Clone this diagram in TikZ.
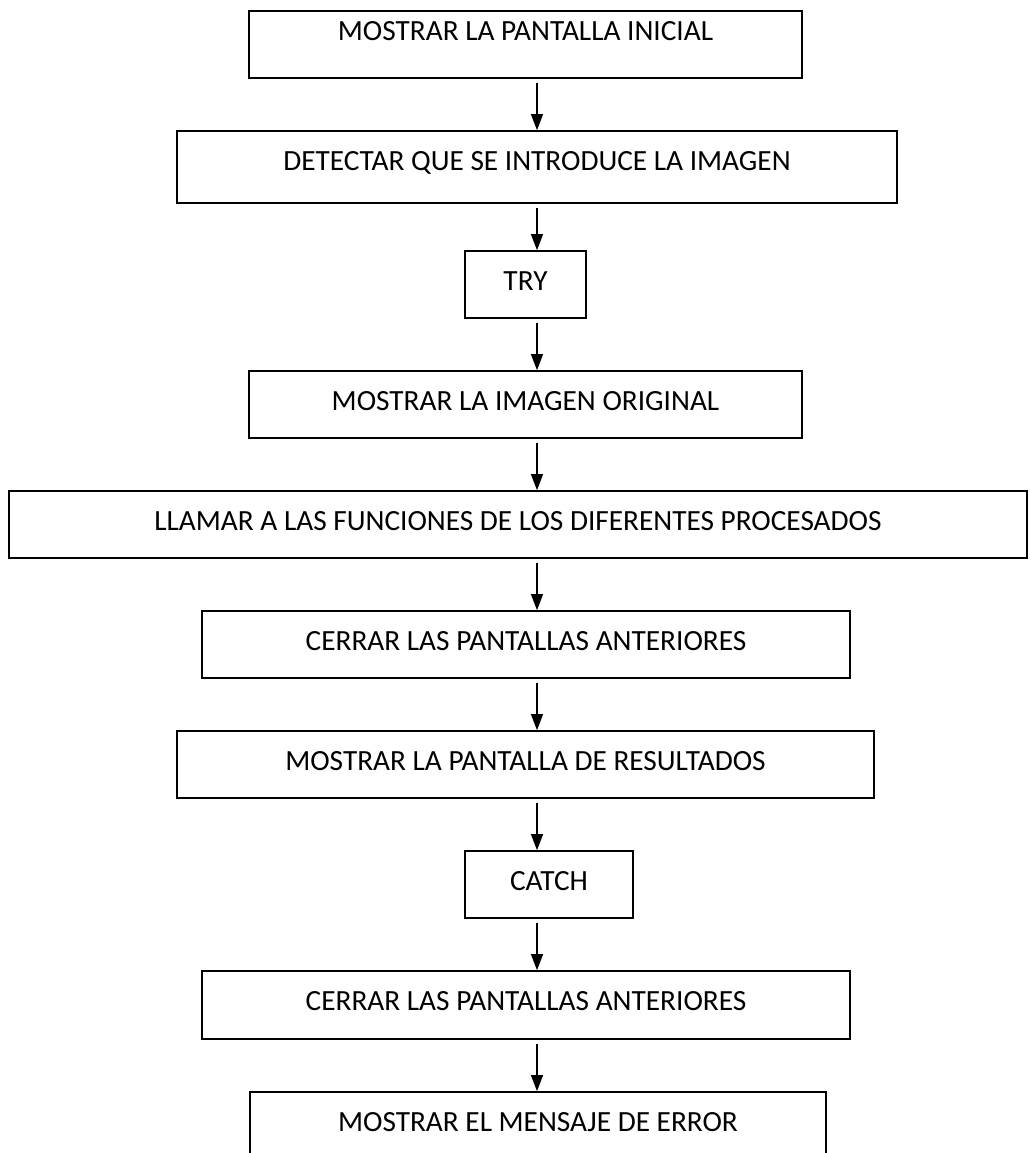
\documentclass[tikz,border=0pt]{standalone}
\usepackage{fontspec}
\setmainfont{Carlito}
\usetikzlibrary{arrows.meta}

\tikzset{
  stepbox/.style={draw=black, line width=1.7pt, rectangle, inner sep=0pt,
    font=\fontsize{29.3pt}{32pt}\selectfont, text height=39pt},
  flow/.style={line width=1.2pt, -{Triangle[width=12pt,length=16pt]}}
}

\begin{document}
\begin{tikzpicture}[x=1pt,y=-1pt]
  \clip (0,0) rectangle (1029,1153);
  \fill[white] (0,0) rectangle (1029,1153);

  % column of the connectors
  \coordinate (ax) at (537,0);

  \node[stepbox, minimum width=553pt, minimum height=67pt, text height=30pt, text depth=37pt]
    (b1) at (525.5,44.5) {MOSTRAR LA PANTALLA INICIAL};
  \node[stepbox, minimum width=720pt, minimum height=72pt, text depth=33pt]
    (b2) at (537,167) {DETECTAR QUE SE INTRODUCE LA IMAGEN};
  \node[stepbox, minimum width=121pt, minimum height=67pt, text depth=28pt]
    (b3) at (525.5,284.5) {TRY};
  \node[stepbox, minimum width=553pt, minimum height=67pt, text depth=28pt]
    (b4) at (525.5,404.5) {MOSTRAR LA IMAGEN ORIGINAL};
  \node[stepbox, minimum width=1018pt, minimum height=67pt, text depth=28pt]
    (b5) at (518,524.5) {LLAMAR A LAS FUNCIONES DE LOS DIFERENTES PROCESADOS};
  \node[stepbox, minimum width=648pt, minimum height=67pt, text depth=28pt]
    (b6) at (526,644.5) {CERRAR LAS PANTALLAS ANTERIORES};
  \node[stepbox, minimum width=697pt, minimum height=67pt, text depth=28pt]
    (b7) at (525.5,764.5) {MOSTRAR LA PANTALLA DE RESULTADOS};
  \node[stepbox, minimum width=168pt, minimum height=67pt, text depth=28pt]
    (b8) at (549,884.5) {CATCH};
  \node[stepbox, minimum width=648pt, minimum height=68pt, text depth=29pt]
    (b9) at (526,1005) {CERRAR LAS PANTALLAS ANTERIORES};
  \node[stepbox, minimum width=576pt, minimum height=67pt, text depth=28pt]
    (b10) at (538,1125.5) {MOSTRAR EL MENSAJE DE ERROR};

  \foreach \a/\b in {b1/b2,b2/b3,b3/b4,b4/b5,b5/b6,b6/b7,b7/b8,b8/b9,b9/b10}
    \draw[flow] ([yshift=-4pt]\a.south -| ax) -- (\b.north -| ax);
\end{tikzpicture}
\end{document}
